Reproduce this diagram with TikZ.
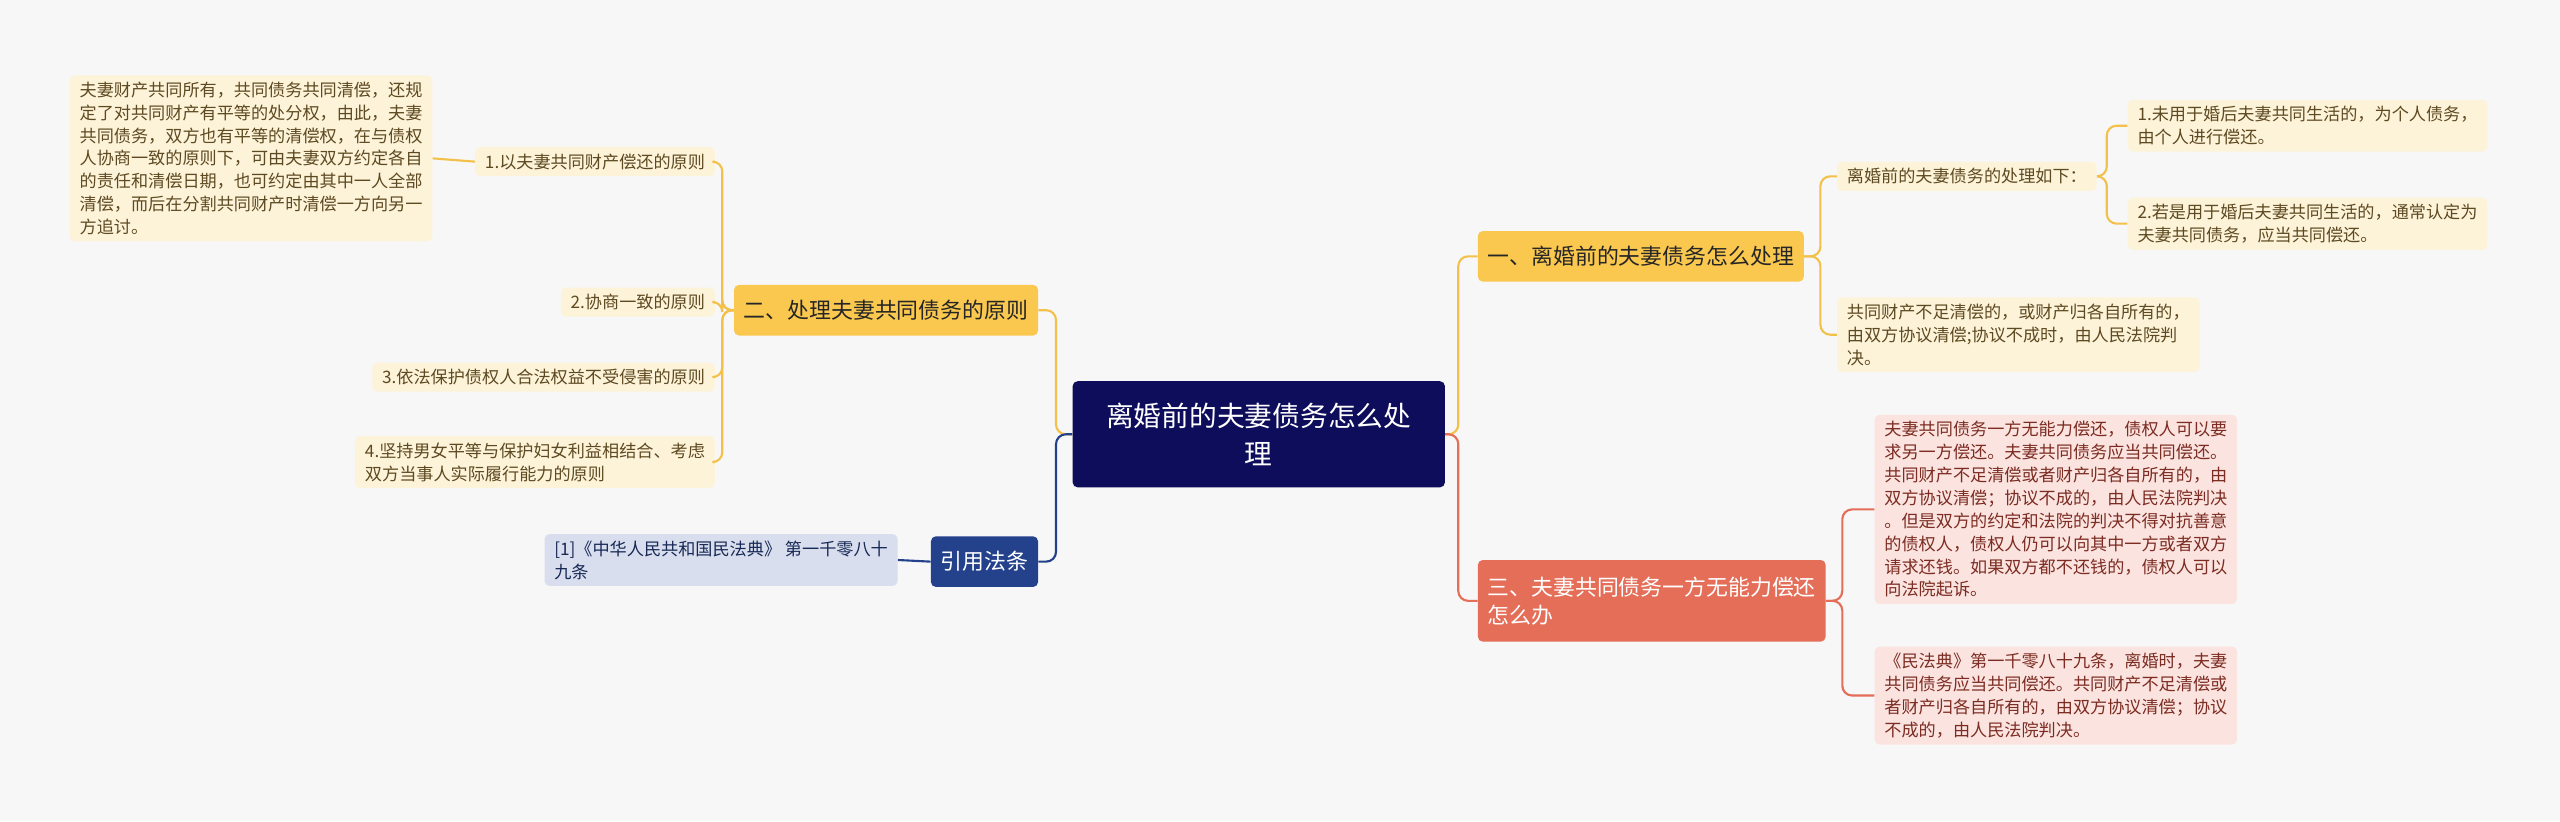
\documentclass[tikz,border=0pt]{standalone}
\usepackage{fontspec}
\setmainfont{Noto Sans CJK SC}
\usetikzlibrary{positioning}
\definecolor{bgc}{HTML}{F7F7F7}
\definecolor{rootc}{HTML}{0E0D5B}
\definecolor{yelc}{HTML}{FAC84E}
\definecolor{yline}{HTML}{F3C04A}
\definecolor{salc}{HTML}{E46E58}
\definecolor{bluec}{HTML}{24428C}
\definecolor{creamc}{HTML}{FDF3D8}
\definecolor{pinkc}{HTML}{FBE3DF}
\definecolor{greyc}{HTML}{D9DEEE}
\definecolor{browntext}{HTML}{5E4A22}
\definecolor{redtext}{HTML}{7C2C22}
\tikzset{
  box/.style={rounded corners=3pt, align=left, inner xsep=6pt, inner ysep=4pt},
  rootbox/.style={box, fill=rootc, text=white, align=center, inner xsep=12pt, inner ysep=8pt,
    font=\fontsize{17}{23}\selectfont},
  branchbox/.style={box, fill=yelc, text=black!85, font=\fontsize{13.4}{17}\selectfont, minimum height=31pt},
  leafbox/.style={box, fill=creamc, text=browntext, font=\fontsize{10.5}{14}\selectfont},
  pinkbox/.style={box, fill=pinkc, text=redtext, font=\fontsize{10.5}{14}\selectfont},
  yconn/.style={draw=yline, line width=1.3pt, rounded corners=6pt},
  rconn/.style={draw=salc, line width=1.3pt, rounded corners=6pt},
  bconn/.style={draw=bluec, line width=1.3pt, rounded corners=6pt}
}
\begin{document}
\begin{tikzpicture}[x=1pt,y=-1pt]
  \fill[bgc] (0,0) rectangle (1568,503);
  \useasboundingbox (0,0) rectangle (1568,503);

  % centre
  \node[rootbox, minimum width=228pt, minimum height=65pt] (root) at (771,266) {离婚前的夫妻债务怎么处\\理};

  % branches
  \node[branchbox, anchor=west] (b1) at (905,157) {一、离婚前的夫妻债务怎么处理};
  \node[branchbox, anchor=east] (b2) at (636,190) {二、处理夫妻共同债务的原则};
  \node[branchbox, anchor=west, fill=salc, text=white, minimum height=50pt] (b3) at (905,368) {三、夫妻共同债务一方无能力偿还\\怎么办};
  \node[branchbox, anchor=east, fill=bluec, text=white, inner xsep=6pt] (b4) at (636,344) {引用法条};

  % left leaves
  \node[leafbox, anchor=east] (p1) at (438,99) {1.以夫妻共同财产偿还的原则};
  \node[leafbox, anchor=east] (d1) at (265,97) {夫妻财产共同所有，共同债务共同清偿，还规\\定了对共同财产有平等的处分权，由此，夫妻\\共同债务，双方也有平等的清偿权，在与债权\\人协商一致的原则下，可由夫妻双方约定各自\\的责任和清偿日期，也可约定由其中一人全部\\清偿，而后在分割共同财产时清偿一方向另一\\方追讨。};
  \node[leafbox, anchor=east] (p2) at (438,185) {2.协商一致的原则};
  \node[leafbox, anchor=east] (p3) at (438,231) {3.依法保护债权人合法权益不受侵害的原则};
  \node[leafbox, anchor=east] (p4) at (438,283) {4.坚持男女平等与保护妇女利益相结合、考虑\\双方当事人实际履行能力的原则};
  \node[leafbox, anchor=east, fill=greyc, text=bluec!60!black] (c1) at (550,343) {[1]《中华人民共和国民法典》 第一千零八十\\九条};

  % right leaves
  \node[leafbox, anchor=west] (r1) at (1125,108) {离婚前的夫妻债务的处理如下：};
  \node[leafbox, anchor=west] (r11) at (1303,77) {1.未用于婚后夫妻共同生活的，为个人债务，\\由个人进行偿还。};
  \node[leafbox, anchor=west] (r12) at (1303,137) {2.若是用于婚后夫妻共同生活的，通常认定为\\夫妻共同债务，应当共同偿还。};
  \node[leafbox, anchor=west] (r2) at (1125,205) {共同财产不足清偿的，或财产归各自所有的，\\由双方协议清偿;协议不成时，由人民法院判\\决。};
  \node[pinkbox, anchor=west] (s1) at (1148,312) {夫妻共同债务一方无能力偿还，债权人可以要\\求另一方偿还。夫妻共同债务应当共同偿还。\\共同财产不足清偿或者财产归各自所有的，由\\双方协议清偿；协议不成的，由人民法院判决\\。但是双方的约定和法院的判决不得对抗善意\\的债权人，债权人仍可以向其中一方或者双方\\请求还钱。如果双方都不还钱的，债权人可以\\向法院起诉。};
  \node[pinkbox, anchor=west] (s2) at (1148,426) {《民法典》第一千零八十九条，离婚时，夫妻\\共同债务应当共同偿还。共同财产不足清偿或\\者财产归各自所有的，由双方协议清偿；协议\\不成的，由人民法院判决。};

  % connectors
  \draw[yconn] (root.east) -- ++(8,0) |- (b1.west);
  \draw[rconn] (root.east) -- ++(8,0) |- (b3.west);
  \draw[yconn] (root.west) -- ++(-10,0) |- (b2.east);
  \draw[bconn] (root.west) -- ++(-10,0) |- (b4.east);

  \foreach \n in {p1,p2,p3,p4}
    \draw[yconn] (b2.west) -- ++(-7,0) |- (\n.east);
  \draw[yconn] (p1.west) -- (d1.east);
  \draw[bconn] (b4.west) -- (c1.east);

  \foreach \n in {r1,r2}
    \draw[yconn] (b1.east) -- ++(10,0) |- (\n.west);
  \foreach \n in {r11,r12}
    \draw[yconn] (r1.east) -- ++(6,0) |- (\n.west);
  \foreach \n in {s1,s2}
    \draw[rconn] (b3.east) -- ++(10,0) |- (\n.west);
\end{tikzpicture}
\end{document}
